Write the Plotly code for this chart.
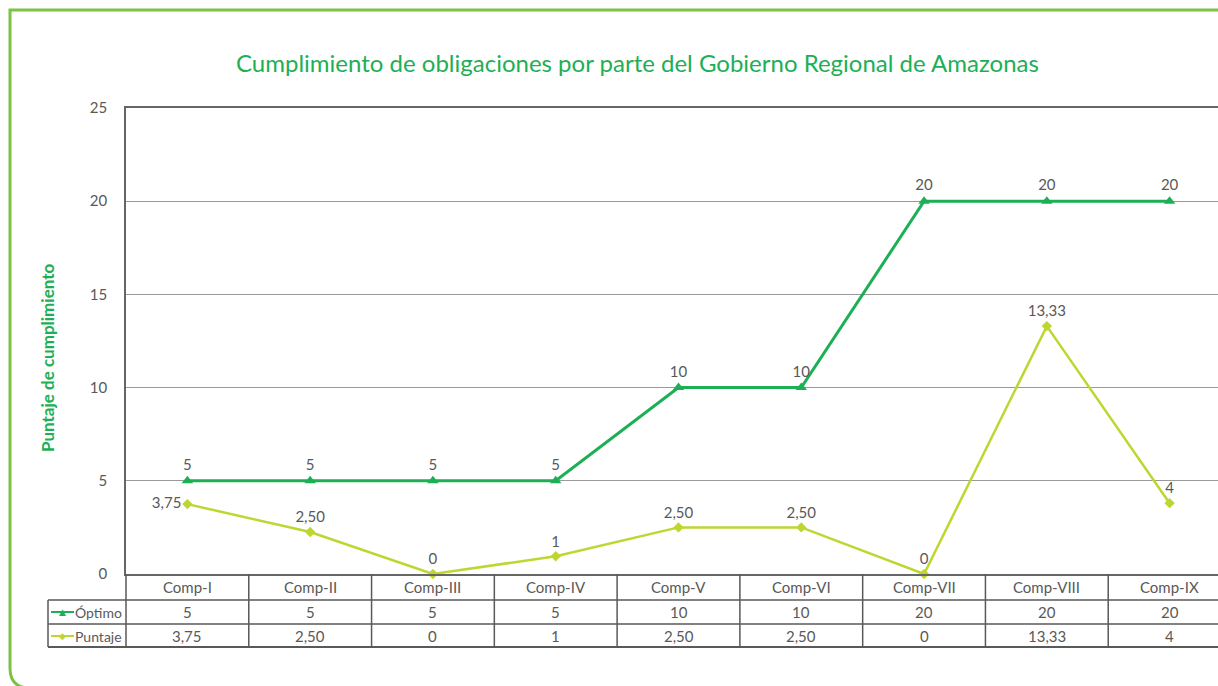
import plotly.graph_objects as go

categories = ["Comp-I", "Comp-II", "Comp-III", "Comp-IV", "Comp-V", "Comp-VI", "Comp-VII", "Comp-VIII", "Comp-IX"]
optimo = [5, 5, 5, 5, 10, 10, 20, 20, 20]
optimo_labels = ["5", "5", "5", "5", "10", "10", "20", "20", "20"]
puntaje = [3.75, 2.25, 0, 0.95, 2.5, 2.5, 0, 13.3, 3.8]
puntaje_labels = ["3,75", "2,50", "0", "1", "2,50", "2,50", "0", "13,33", "4"]
y_ticks = [0, 5, 10, 15, 20, 25]

GREEN = "#1DAF55"
LIME = "#BFD630"
BORDER = "#7DC243"
GRAY = "#595959"
FONT = "Lato"

W, H = 1218, 686
L, R, T, B = 126, 1218, 108, 574
PW, PH = R - L, B - T


def px(x):
    return (x - L) / PW


def py(y):
    return (B - y) / PH


n = len(categories)
xs = list(range(n))

fig = go.Figure()
fig.add_trace(go.Scatter(
    x=xs, y=optimo, mode="lines+markers+text", name="Óptimo",
    line=dict(color=GREEN, width=3),
    marker=dict(symbol="triangle-up", size=10, color=GREEN),
    text=optimo_labels, textposition="top center",
    textfont=dict(family=FONT, size=15, color=GRAY),
    cliponaxis=False, showlegend=False,
))
pos = ["middle left"] + ["top center"] * (n - 1)
fig.add_trace(go.Scatter(
    x=xs, y=puntaje, mode="lines+markers+text", name="Puntaje",
    line=dict(color=LIME, width=2.5),
    marker=dict(symbol="diamond", size=8, color=LIME),
    text=puntaje_labels, textposition=pos,
    textfont=dict(family=FONT, size=15, color=GRAY),
    cliponaxis=False, showlegend=False,
))

shapes = []
annotations = []
row_y = [574, 600, 624, 647]
tc = GRAY
# horizontal table lines
for i, yy in enumerate(row_y[1:]):
    shapes.append(dict(type="line", xref="paper", yref="paper",
                       x0=px(48), x1=1, y0=py(yy), y1=py(yy),
                       line=dict(color=tc, width=2 if i == 2 else 1.5)))
# vertical lines
shapes.append(dict(type="line", xref="paper", yref="paper", x0=px(48), x1=px(48),
                   y0=py(600), y1=py(647), line=dict(color=tc, width=1.5)))
shapes.append(dict(type="line", xref="paper", yref="paper", x0=0, x1=0,
                   y0=py(574), y1=py(647), line=dict(color=tc, width=1.5)))
for i in range(n - 1):
    shapes.append(dict(type="line", xref="x", yref="paper", x0=i + 0.5, x1=i + 0.5,
                       y0=py(574), y1=py(647), line=dict(color=tc, width=1.5)))

# table text
rows = [(587, categories), (612, optimo_labels), (636, puntaje_labels)]
for yy, vals in rows:
    for i, v in enumerate(vals):
        annotations.append(dict(x=i, y=py(yy), xref="x", yref="paper", text=v,
                                showarrow=False, xanchor="center", yanchor="middle",
                                font=dict(family=FONT, size=15, color=GRAY)))

# legend keys in table
for yy, col, sym, name in [(612, GREEN, "▲", "Óptimo"), (636, LIME, "◆", "Puntaje")]:
    shapes.append(dict(type="line", xref="paper", yref="paper", x0=px(51), x1=px(74),
                       y0=py(yy), y1=py(yy), line=dict(color=col, width=2)))
    annotations.append(dict(x=px(62), y=py(yy), xref="paper", yref="paper", text=sym,
                            showarrow=False, xanchor="center", yanchor="middle",
                            font=dict(family="DejaVu Sans", size=9, color=col)))
    annotations.append(dict(x=px(73), y=py(yy), xref="paper", yref="paper", text=name,
                            showarrow=False, xanchor="left", yanchor="middle",
                            font=dict(family=FONT, size=14, color=GRAY)))

# title
annotations.append(dict(x=px(637), y=py(62), xref="paper", yref="paper",
                        text="Cumplimiento de obligaciones por parte del Gobierno Regional de Amazonas",
                        showarrow=False, xanchor="center", yanchor="middle",
                        font=dict(family=FONT, size=24, color=GREEN)))
# y-axis title
annotations.append(dict(x=px(47), y=py(358), xref="paper", yref="paper",
                        text="<b>Puntaje de cumplimiento</b>", textangle=-90,
                        showarrow=False, xanchor="center", yanchor="middle",
                        font=dict(family=FONT, size=17, color=GREEN)))

# outer green border
x0b, y0b = px(10), py(10)
xb_right = px(1240)
corner_y = py(668)
shapes.append(dict(type="path", xref="paper", yref="paper",
                   path=f"M {xb_right} {y0b} L {x0b} {y0b} L {x0b} {corner_y} "
                        f"Q {x0b} {py(688)} {px(30)} {py(688)}",
                   line=dict(color=BORDER, width=3), layer="below"))

fig.update_layout(
    width=W, height=H,
    margin=dict(l=L, r=W - R, t=T, b=H - B),
    paper_bgcolor="white", plot_bgcolor="white",
    shapes=shapes, annotations=annotations,
    showlegend=False,
    xaxis=dict(range=[-0.5, -0.5 + n * PW / 1105], showgrid=False, zeroline=False,
               showticklabels=False, showline=True, mirror=True,
               linecolor="#666666", linewidth=1.5, ticks=""),
    yaxis=dict(range=[0, 25], tickvals=y_ticks, showgrid=True, gridcolor="#9a9a9a",
               gridwidth=1, zeroline=False, showline=True, linecolor="#666666",
               linewidth=1.5, ticks="", ticklabelstandoff=14,
               tickfont=dict(family=FONT, size=15, color=GRAY)),
)

fig.write_html("out.html", config={"displayModeBar": False},
               post_script="document.body.style.margin='0';document.body.style.overflow='hidden';")
